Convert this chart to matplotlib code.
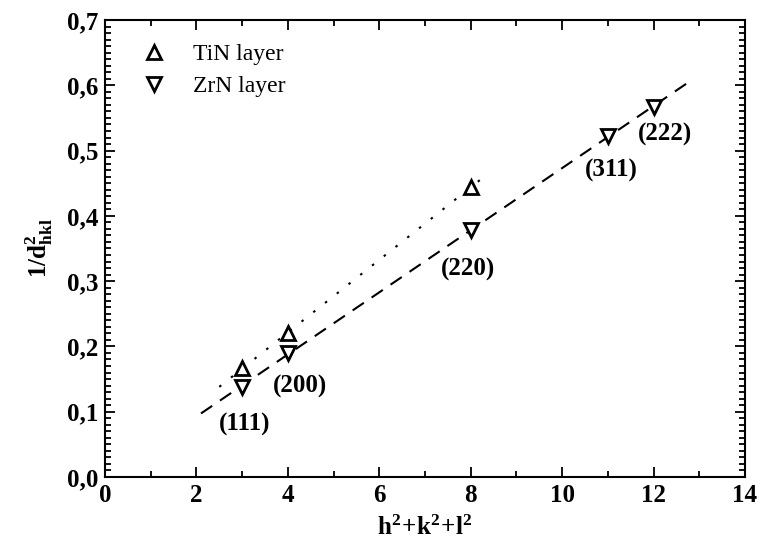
import numpy as np
import matplotlib
matplotlib.use("Agg")
import matplotlib.pyplot as plt
from matplotlib.ticker import MultipleLocator, FuncFormatter

plt.rcParams["font.family"] = ["Liberation Serif", "DejaVu Serif"]
plt.rcParams["mathtext.fontset"] = "custom"
plt.rcParams["mathtext.rm"] = "Liberation Serif"
plt.rcParams["mathtext.bf"] = "Liberation Serif:bold"

# h^2+k^2+l^2 and measured 1/d^2 for each layer
tin_x = [3, 4, 8]
tin_y = [0.167, 0.220, 0.444]
zrn_x = [3, 4, 8, 11, 12]
zrn_y = [0.138, 0.190, 0.378, 0.522, 0.567]

# extent of the linear fits
tin_fit_range = [2.5, 8.3]
zrn_fit_range = [2.1, 12.8]

# reflection labels (text, x, y)
hkl_labels = ["(111)", "(200)", "(220)", "(311)", "(222)"]
hkl_x = [3.06, 4.26, 7.94, 11.07, 12.26]
hkl_y = [0.080, 0.138, 0.318, 0.470, 0.524]

fig = plt.figure(figsize=(7.62, 5.45), dpi=100)
ax = fig.add_axes([0.1378, 0.1248, 0.8399, 0.8385])

# least-squares lines through each data set
for xs, ys, rng, ls in ((tin_x, tin_y, tin_fit_range, (0, (1.2, 6))),
                        (zrn_x, zrn_y, zrn_fit_range, (0, (6.5, 4.5)))):
    k, b = np.polyfit(xs, ys, 1)
    xx = np.array(rng)
    ax.plot(xx, k * xx + b, color="black", lw=1.5, linestyle=ls)

ax.plot(tin_x, tin_y, linestyle="none", marker="^", ms=10, mfc="white",
        mec="black", mew=2, label="TiN layer")
ax.plot(zrn_x, zrn_y, linestyle="none", marker="v", ms=10, mfc="white",
        mec="black", mew=2, label="ZrN layer")

for t, x, y in zip(hkl_labels, hkl_x, hkl_y):
    ax.text(x, y, t, ha="center", va="center", fontsize=18, fontweight="bold")

ax.set_xlim(0, 14)
ax.set_ylim(0, 0.7)
ax.xaxis.set_major_locator(MultipleLocator(2))
ax.xaxis.set_minor_locator(MultipleLocator(1))
ax.yaxis.set_major_locator(MultipleLocator(0.1))
ax.yaxis.set_minor_locator(MultipleLocator(0.01))
ax.yaxis.set_major_formatter(FuncFormatter(lambda v, p: f"{v:.1f}".replace(".", ",")))
ax.tick_params(which="both", direction="in", top=True, right=True, width=1.3)
ax.tick_params(which="major", length=7, labelsize=18, pad=5)
ax.tick_params(which="minor", length=4)
for lab in ax.get_xticklabels() + ax.get_yticklabels():
    lab.set_fontweight("bold")
for s in ax.spines.values():
    s.set_linewidth(1.5)

ax.set_xlabel(r"$\mathbf{h^2\!+\!k^2\!+\!l^2}$", fontsize=18, labelpad=6)
ax.set_ylabel(r"$\mathbf{1/d^2_{hkl}}$", fontsize=18, labelpad=8)

ax.legend(loc="upper left", bbox_to_anchor=(0.0125, 1.0), frameon=False,
          fontsize=17, handletextpad=0.9, borderaxespad=0.6,
          labelspacing=0.45, handlelength=1.5)

fig.savefig("out.png", dpi=100)
